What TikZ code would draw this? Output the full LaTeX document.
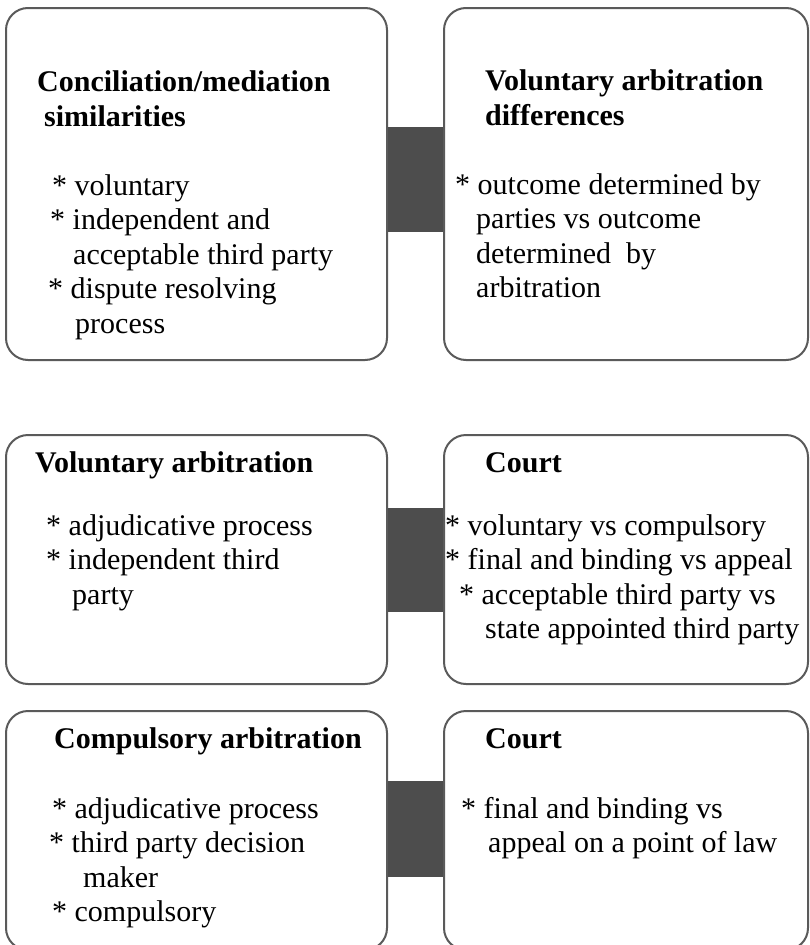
\documentclass[tikz,border=0pt]{standalone}
\usepackage{fontspec}
\setmainfont{Liberation Serif}
\definecolor{boxgray}{HTML}{5A5A5A}
\definecolor{bargray}{HTML}{4D4D4D}
\newcommand{\lines}[1]{\begin{tabular}[t]{@{}l@{}}#1\end{tabular}}

\begin{document}
\begin{tikzpicture}[x=1pt,y=-1pt,
    box/.style={draw=boxgray, line width=2pt, rounded corners=22pt, inner sep=0pt},
    bar/.style={fill=bargray},
    txt/.style={inner sep=0pt, anchor=base west, font=\fontsize{30}{34.5}\selectfont},
    head/.style={txt, font=\fontsize{30}{35}\selectfont\bfseries}]
  \useasboundingbox (0,0) rectangle (809,945);
  % boxes
  \node[box, minimum width=381, minimum height=352] (l1) at (196.5,184) {};
  \node[box, minimum width=364, minimum height=352] (r1) at (626,184) {};
  \node[box, minimum width=381, minimum height=249] (l2) at (196.5,559.5) {};
  \node[box, minimum width=364, minimum height=249] (r2) at (626,559.5) {};
  \node[box, minimum width=381, minimum height=239] (l3) at (196.5,830.5) {};
  \node[box, minimum width=364, minimum height=239] (r3) at (626,830.5) {};
  % bars between the boxes
  \fill[bar] ([yshift=57pt]l1.east) rectangle ([yshift=-48pt]r1.west);
  \fill[bar] ([yshift=51.5pt]l2.east) rectangle ([yshift=-52.5pt]r2.west);
  \fill[bar] ([yshift=49.5pt]l3.east) rectangle ([yshift=-46.5pt]r3.west);
  % first row
  \node[head] (h1) at (37,91) {\lines{Conciliation/mediation\\
    \hspace*{7pt}similarities}};
  \node[txt] (t1) at (48,195) {\lines{\hspace*{4pt}* voluntary\\
    \hspace*{2pt}* independent and\\
    \hspace*{25pt}acceptable third party\\
    {*} dispute resolving\\
    \hspace*{27pt}process}};
  \node[head] (h2) at (485,90) {\lines{Voluntary arbitration\\differences}};
  \node[txt] (t2) at (455,194) {\lines{* outcome determined by\\
    \hspace*{21pt}parties vs outcome\\
    \hspace*{21pt}determined\ \ by\\
    \hspace*{21pt}arbitration}};
  % second row
  \node[head] (h3) at (35,472) {Voluntary arbitration};
  \node[txt] (t3) at (46,535) {\lines{* adjudicative process\\
    {*} independent third\\
    \hspace*{26pt}party}};
  \node[head] (h4) at (485,472) {Court};
  \node[txt] (t4) at (445,535) {\lines{* voluntary vs compulsory\\
    {*} final and binding vs appeal\\
    \hspace*{14pt}* acceptable third party vs\\
    \hspace*{40pt}state appointed third party}};
  % third row
  \node[head] (h5) at (54,748) {Compulsory arbitration};
  \node[txt] (t5) at (49,818) {\lines{\hspace*{3pt}* adjudicative process\\
    {*} third party decision\\
    \hspace*{34pt}maker\\
    \hspace*{3pt}* compulsory}};
  \node[head] (h6) at (485,748) {Court};
  \node[txt] (t6) at (461,818) {\lines{* final and binding vs\\
    \hspace*{27pt}appeal on a point of law}};
\end{tikzpicture}
\end{document}
